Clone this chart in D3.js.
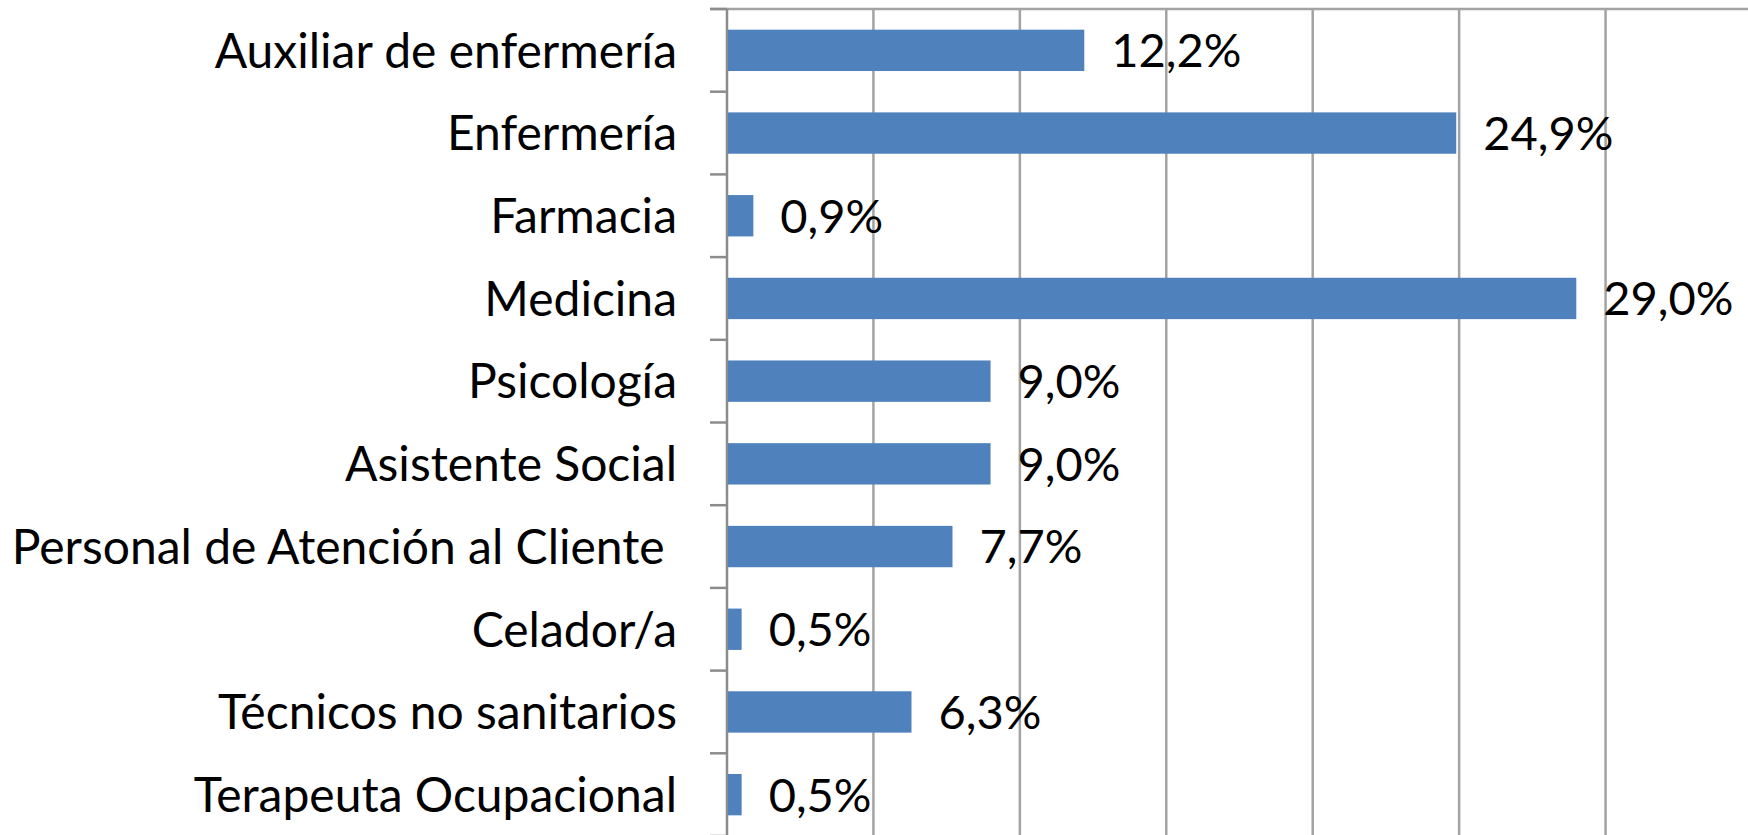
<!DOCTYPE html>
<html>
<head>
<meta charset="utf-8">
<script src="https://cdn.jsdelivr.net/npm/d3@7"></script>
<style>
  body { margin: 0; background: #fff; }
  text { font-family: Lato, "Open Sans", sans-serif; fill: #000; white-space: pre; }
</style>
</head>
<body>
<div id="chart"></div>
<script>
// data
const categories = [
  "Auxiliar de enfermería",
  "Enfermería",
  "Farmacia",
  "Medicina",
  "Psicología",
  "Asistente Social",
  "Personal de Atención al Cliente ",
  "Celador/a",
  "Técnicos no sanitarios",
  "Terapeuta Ocupacional"
]
const values = [12.2, 24.9, 0.9, 29.0, 9.0, 9.0, 7.7, 0.5, 6.3, 0.5]
const xTicks = [0, 5, 10, 15, 20, 25, 30, 35]

const width = 1748, height = 835
const plot = {left: 727, top: 9, right: 1752, bottom: 836}

const svg = d3.select("#chart").append("svg")
    .attr("width", width)
    .attr("height", height)

const x = d3.scaleLinear().domain([0, 35]).range([plot.left, plot.right])
const y = d3.scaleBand().domain(categories)
    .range([plot.top, plot.bottom])
    .paddingInner(0.5)
    .paddingOuter(0.25)

const fmt = d3.formatLocale({decimal: ",", thousands: ".", grouping: [3], currency: ["", "€"]}).format(".1f")

// vertical gridlines
svg.append("g").selectAll("line")
  .data(xTicks.slice(1))
  .join("line")
    .attr("x1", d => x(d)).attr("x2", d => x(d))
    .attr("y1", plot.top).attr("y2", height)
    .attr("stroke", "#a3a3a3")
    .attr("stroke-width", 2.5)

// top border line
svg.append("line")
    .attr("x1", plot.left - 17).attr("x2", width)
    .attr("y1", plot.top).attr("y2", plot.top)
    .attr("stroke", "#a3a3a3")
    .attr("stroke-width", 2.5)

// category axis line + tick marks at band boundaries
const bounds = d3.range(categories.length + 1).map(i => plot.top + i * y.step())
svg.append("g").selectAll("line")
  .data(bounds)
  .join("line")
    .attr("x1", plot.left - 17).attr("x2", plot.left)
    .attr("y1", d => d).attr("y2", d => d)
    .attr("stroke", "#8c8c8c")
    .attr("stroke-width", 2.5)
svg.append("line")
    .attr("x1", x(0)).attr("x2", x(0))
    .attr("y1", plot.top).attr("y2", height)
    .attr("stroke", "#8c8c8c")
    .attr("stroke-width", 2.5)

// bars
svg.append("g").selectAll("rect")
  .data(values)
  .join("rect")
    .attr("x", x(0) + 1)
    .attr("y", (d, i) => y(categories[i]))
    .attr("width", d => x(d) - x(0) - 1)
    .attr("height", y.bandwidth())
    .attr("fill", "#4f81bd")

// value labels
svg.append("g").selectAll("text")
  .data(values)
  .join("text")
    .attr("x", d => x(d) + 27)
    .attr("y", (d, i) => y(categories[i]) + y.bandwidth() / 2)
    .attr("dy", "0.36em")
    .attr("font-size", 47)
    .text(d => fmt(d) + "%")

// category labels
svg.append("g").selectAll("text")
  .data(categories)
  .join("text")
    .attr("x", 677)
    .attr("y", d => y(d) + y.bandwidth() / 2)
    .attr("dy", "0.36em")
    .attr("text-anchor", "end")
    .attr("font-size", 48)
    .text(d => d)
</script>
</body>
</html>
